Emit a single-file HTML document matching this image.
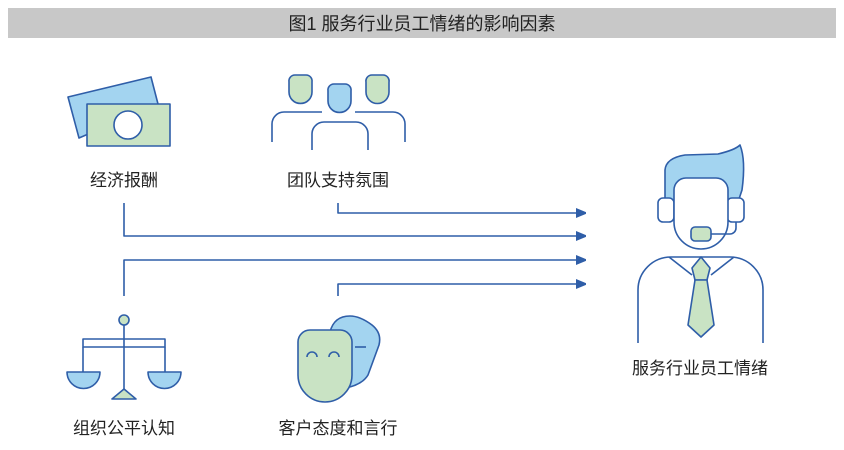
<!DOCTYPE html>
<html><head><meta charset="utf-8"><style>
body{margin:0;background:#fff;}
svg{display:block;}
text{font-family:"Liberation Sans","Noto Sans CJK SC",sans-serif;fill:#222;}
</style></head><body>
<svg width="844" height="450" viewBox="0 0 844 450" xmlns="http://www.w3.org/2000/svg">
<defs><marker id="a" markerWidth="10" markerHeight="10" refX="9" refY="5" orient="auto" markerUnits="userSpaceOnUse"><path d="M0,0 L12,5 L0,10 z" fill="#2f5ea8"/></marker></defs>
<rect x="8" y="8" width="828" height="30" fill="#c8c8c8"/>
<text x="422" y="30" font-size="18" text-anchor="middle">图1  服务行业员工情绪的影响因素</text>
<g stroke="#2f5ea8" stroke-width="1.6" fill="none" stroke-linejoin="round">
<polygon points="68,97 151,77 158,104 79,138" fill="#a3d4f0"/>
<rect x="87" y="104" width="83" height="42" fill="#c9e3c4"/>
<circle cx="128" cy="125" r="14" fill="#fff"/>
<path d="M289,82 a6,6 0 0 1 6,-7 H306 a6,6 0 0 1 6,7 V92 a11,11 0 0 1 -23,0 Z" fill="#c9e3c4"/>
<path d="M366,82 a6,6 0 0 1 6,-7 H383 a6,6 0 0 1 6,7 V92 a11,11 0 0 1 -23,0 Z" fill="#c9e3c4"/>
<path d="M328,91 a6,6 0 0 1 6,-7 H345 a6,6 0 0 1 6,7 V101 a11,11 0 0 1 -23,0 Z" fill="#a3d4f0"/>
<path d="M272,142 V124 a12,12 0 0 1 12,-12 H322"/>
<path d="M405,142 V124 a12,12 0 0 0 -12,-12 H355"/>
<path d="M312,150 V134 a12,12 0 0 1 12,-12 H356 a12,12 0 0 1 12,12 V150"/>
<path d="M338,203 V213 H585" marker-end="url(#a)"/>
<path d="M124,203 V236 H585" marker-end="url(#a)"/>
<path d="M124,296 V260 H585" marker-end="url(#a)"/>
<path d="M338,296 V284 H585" marker-end="url(#a)"/>
<path d="M665,215 V170 Q666,158 685,155 L718,154 Q735,150 740,145 Q746,160 742,190 L737,205 Z" fill="#a3d4f0"/>
<rect x="658" y="198" width="16" height="24" rx="5" fill="#fff"/>
<rect x="727" y="198" width="17" height="24" rx="5" fill="#fff"/>
<path d="M674,190 a12,12 0 0 1 12,-12 H716 a12,12 0 0 1 12,12 V222 a27,27 0 0 1 -27,27 a27,27 0 0 1 -27,-27 Z" fill="#fff"/>
<path d="M736,222 V228 a6,6 0 0 1 -6,6 H711"/>
<rect x="691" y="227" width="20" height="14" rx="4" fill="#c9e3c4"/>
<path d="M638,343 V290 a33,33 0 0 1 33,-33 H730 a33,33 0 0 1 33,33 V343" fill="#fff"/>
<path d="M669,257 L692,275 M734,257 L711,275"/>
<path d="M701,257 L692,268 L695,280 L707,280 L710,268 Z" fill="#c9e3c4"/>
<path d="M695,280 L688,325 L701,337 L714,325 L707,280 Z" fill="#c9e3c4"/>
<circle cx="124" cy="320" r="5" fill="#c9e3c4"/>
<line x1="124" y1="325" x2="124" y2="390"/>
<rect x="83" y="339" width="82" height="8"/>
<path d="M83,347 V372 M165,347 V372"/>
<path d="M67,372 H100 a16.5,16.5 0 0 1 -33,0 Z" fill="#a3d4f0"/>
<path d="M148,372 H181 a16.5,16.5 0 0 1 -33,0 Z" fill="#a3d4f0"/>
<path d="M112,399 L136,399 L124,389 Z" fill="#c9e3c4"/>
<path d="M330,332 Q334,316 350,316 Q360,316 372,325 Q382,333 379,345 L368,375 Q362,385 345,388 Z" fill="#a3d4f0"/>
<path d="M355,347 H366"/>
<path d="M310,330 H340 a12,12 0 0 1 12,12 V375 a27,27 0 0 1 -27,27 a27,27 0 0 1 -27,-27 V342 a12,12 0 0 1 12,-12 Z" fill="#c9e3c4"/>
<path d="M307,357 a5,5 0 0 1 10,0 M329,357 a5,5 0 0 1 10,0"/>
</g>
<g font-size="17" text-anchor="middle">
<text x="124" y="186">经济报酬</text>
<text x="338" y="186">团队支持氛围</text>
<text x="124" y="434">组织公平认知</text>
<text x="338" y="434">客户态度和言行</text>
<text x="700" y="374">服务行业员工情绪</text>
</g>
</svg>
</body></html>
